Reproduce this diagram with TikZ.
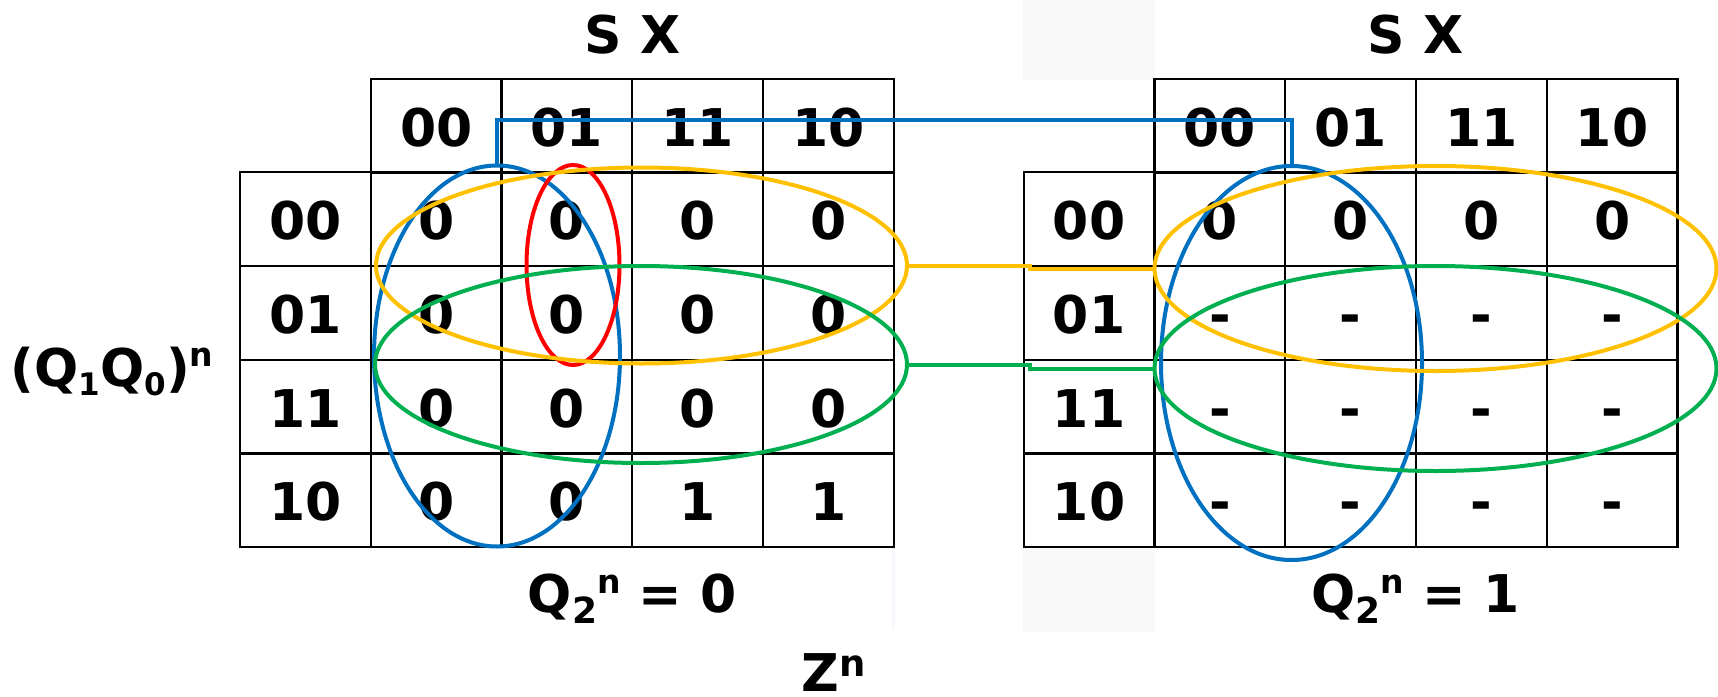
\documentclass[tikz,border=0pt]{standalone}
\usepackage{fontspec}
\setmainfont{DejaVu Sans}
\usepackage{xcolor}
\usetikzlibrary{shapes.geometric}
\definecolor{kBlue}{HTML}{0070C0}
\definecolor{kRed}{HTML}{FF0000}
\definecolor{kYellow}{HTML}{FFC000}
\definecolor{kGreen}{HTML}{00B050}
\definecolor{pale}{HTML}{F9F9FA}
\definecolor{paleLine}{HTML}{F7F7FE}
\newcommand{\kidx}[3]{\raisebox{#2}{\fontsize{#1}{#1}\selectfont #3}}

\begin{document}
\begin{tikzpicture}[x=1pt, y=-1pt, font=\fontsize{52}{60}\selectfont\bfseries,
  cell/.style={draw, line width=2.2pt, minimum width=130.75pt, minimum height=93.75pt, inner sep=0pt, outer sep=0pt, text height=41pt, text depth=0pt},
  lbl/.style={inner sep=0pt, anchor=base},
  kgroup/.style={ellipse, draw, line width=4pt, inner sep=0pt, outer sep=0pt},
  kwire/.style={line width=4pt}]
\useasboundingbox (0,0) rectangle (1718,696);
% faint patches behind the maps
\fill[pale] (1023,0) rectangle (1155,80);
\fill[pale] (1023,548) rectangle (1155,632);
\fill[paleLine] (892,548) rectangle (894.5,630);
% map for Q2 = 0
\foreach \h [count=\i from 0] in {00,01,11,10}
  \node[cell] (hL\i) at ({436.2+130.75*\i},125.7) {\h};
\foreach \r/\vals [count=\j from 0] in {00/{0,0,0,0},01/{0,0,0,0},11/{0,0,0,0},10/{0,0,1,1}} {
  \node[cell] (rL\j) at (305.4,{219.2+93.75*\j}) {\r};
  \foreach \v [count=\i from 0] in \vals
    \node[cell] (cL\j\i) at ({436.2+130.75*\i},{219.2+93.75*\j}) {\v};
}
% map for Q2 = 1
\foreach \h [count=\i from 0] in {00,01,11,10}
  \node[cell] (hR\i) at ({1219.9+130.75*\i},125.7) {\h};
\foreach \r/\vals [count=\j from 0] in {00/{0,0,0,0},01/{-,-,-,-},11/{-,-,-,-},10/{-,-,-,-}} {
  \node[cell] (rR\j) at (1089.1,{219.2+93.75*\j}) {\r};
  \foreach \v [count=\i from 0] in \vals
    \node[cell] (cR\j\i) at ({1219.9+130.75*\i},{219.2+93.75*\j}) {\v};
}
% labels
\node[lbl] (sxL) at (632.3,53) {S X};
\node[lbl] (sxR) at (1415.8,53) {S X};
\node[lbl] (rowvar) at (112,386) {(Q\kidx{31}{-9pt}{1}Q\kidx{31}{-9pt}{0})\kidx{33}{20pt}{n}};
\node[lbl] (q2L) at (632.3,612) {Q\kidx{36}{-11pt}{2}\kidx{33}{19pt}{n} = 0};
\node[lbl] (q2R) at (1415.8,612) {Q\kidx{36}{-11pt}{2}\kidx{33}{19pt}{n} = 1};
\node[lbl] (zout) at (834,691) {Z\kidx{37}{15pt}{n}};
% groupings
\node[kgroup, draw=kBlue, minimum width=246pt, minimum height=381pt] (bL) at (497,356) {};
\node[kgroup, draw=kRed, minimum width=93pt, minimum height=200pt] (rdL) at (573,265) {};
\node[kgroup, draw=kYellow, minimum width=531pt, minimum height=196pt] (yL) at (641.5,265.5) {};
\node[kgroup, draw=kGreen, minimum width=532pt, minimum height=197pt] (gL) at (641,364.5) {};
\node[kgroup, draw=kBlue, minimum width=261pt, minimum height=394pt] (bR) at (1291.5,363) {};
\node[kgroup, draw=kYellow, minimum width=562pt, minimum height=205pt] (yR) at (1435.5,268.5) {};
\node[kgroup, draw=kGreen, minimum width=562pt, minimum height=205pt] (gR) at (1435.5,368.5) {};
% links between the maps
\coordinate (jog) at (1030,0);
\coordinate (bar) at (0,120);
\draw[kwire, kYellow] (yL.east) -- (yL.east -| jog) -- (yR.west -| jog) -- (yR.west);
\draw[kwire, kGreen] (gL.east) -- (gL.east -| jog) -- (gR.west -| jog) -- (gR.west);
\draw[kwire, kBlue] (bL.north) |- (bar -| bR.north) -- (bR.north);
\end{tikzpicture}
\end{document}
